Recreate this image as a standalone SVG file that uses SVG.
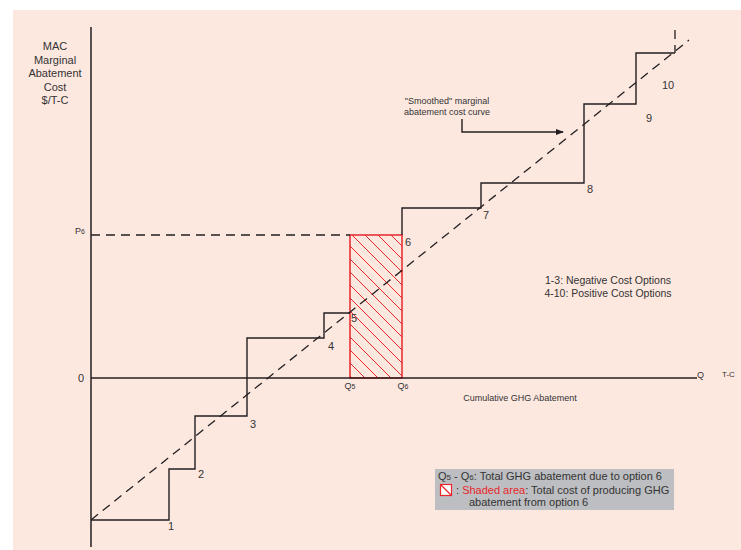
<svg xmlns="http://www.w3.org/2000/svg" width="741" height="550" viewBox="0 0 741 550">
<style>
text{font-family:"Liberation Sans",Arial,sans-serif;fill:#333}
.ax{stroke:#231f20;stroke-width:1.5;fill:none}
.st{stroke:#231f20;stroke-width:1.4;fill:none}
.ds{stroke:#231f20;stroke-width:1.3;fill:none;stroke-dasharray:9 6}
.n{font-size:11px}
.s{font-size:9px}
</style>
<defs>
<pattern id="hatch" patternUnits="userSpaceOnUse" width="13" height="13">
<path d="M-1,-1 L14,14 M-1,12 L1,14 M12,-1 L14,1" stroke="#e8262b" stroke-width="1"/>
</pattern>
<marker id="ah" markerWidth="8" markerHeight="6" refX="7" refY="3" orient="auto" markerUnits="userSpaceOnUse">
<path d="M0,0 L8,3 L0,6 Z" fill="#231f20"/>
</marker>
</defs>
<rect x="0" y="0" width="741" height="550" fill="#ffffff"/>
<rect x="13" y="10" width="728" height="540" fill="#fde8e0"/>

<g id="shaded-area">
<rect x="350" y="235" width="52" height="143" fill="url(#hatch)" stroke="#e8262b" stroke-width="1.5"/>
</g>

<g id="connectors">
<path class="ax" d="M91,27 V547"/>
<path class="ax" d="M91,378 H697"/>
<path class="ds" d="M91,235 H350"/>
<path class="st" d="M91,520 H169 V469 H195 V416 H247 V338 H324 V313 H350 M402,235 V208 H481 V183 H584 V104 H636 V53 H675"/>
<path class="ds" d="M675,30 V53"/>
<path class="ds" d="M91,520 L689,40"/>
<path class="st" d="M462,119 V132 H563" marker-end="url(#ah)"/>
</g>

<g id="y-label">
<text class="n" text-anchor="middle" x="55" y="50">MAC</text>
<text class="n" text-anchor="middle" x="55" y="64">Marginal</text>
<text class="n" text-anchor="middle" x="55" y="77">Abatement</text>
<text class="n" text-anchor="middle" x="55" y="91">Cost</text>
<text class="n" text-anchor="middle" x="55" y="104">$/T-C</text>
</g>

<g id="axis-labels">
<text class="s" x="75" y="234">P<tspan font-size="7">6</tspan></text>
<text class="n" x="78" y="382">0</text>
<text class="s" x="697" y="378">Q</text>
<text class="s" font-size="8" x="722" y="377" style="font-size:8px">T-C</text>
<text class="s" text-anchor="middle" x="350" y="389">Q<tspan font-size="7">5</tspan></text>
<text class="s" text-anchor="middle" x="403" y="389">Q<tspan font-size="7">6</tspan></text>
<text class="s" text-anchor="middle" x="520" y="401">Cumulative GHG Abatement</text>
</g>

<g id="step-numbers">
<text class="n" text-anchor="middle" x="171" y="530">1</text>
<text class="n" text-anchor="middle" x="201" y="478">2</text>
<text class="n" text-anchor="middle" x="253" y="428">3</text>
<text class="n" text-anchor="middle" x="331" y="350">4</text>
<text class="n" text-anchor="middle" x="354" y="322">5</text>
<text class="n" text-anchor="middle" x="408" y="246">6</text>
<text class="n" text-anchor="middle" x="486" y="219">7</text>
<text class="n" text-anchor="middle" x="590" y="193">8</text>
<text class="n" text-anchor="middle" x="649" y="122">9</text>
<text class="n" text-anchor="middle" x="668" y="89">10</text>
</g>

<g id="smoothed-label">
<text class="s" text-anchor="middle" x="447" y="104">"Smoothed" marginal</text>
<text class="s" text-anchor="middle" x="447" y="115">abatement cost curve</text>
</g>

<g id="options-note">
<text text-anchor="middle" x="608" y="284" style="font-size:10.5px">1-3: Negative Cost Options</text>
<text text-anchor="middle" x="608" y="297" style="font-size:10.5px">4-10: Positive Cost Options</text>
</g>

<g id="legend">
<rect x="435" y="469" width="239" height="41" fill="#bdbec1"/>
<text x="438" y="480" style="font-size:11px">Q<tspan font-size="8">5</tspan> - Q<tspan font-size="8">6</tspan>: Total GHG abatement due to option 6</text>
<rect x="440.5" y="484.5" width="11" height="11" fill="#ffffff" stroke="#e8262b" stroke-width="1.2"/>
<path d="M441,485 L451,495" stroke="#e8262b" stroke-width="1.2"/>
<text x="456" y="494" style="font-size:11px">: <tspan fill="#e8262b">Shaded area</tspan>: Total cost of producing GHG</text>
<text x="469" y="506" style="font-size:11px">abatement from option 6</text>
</g>
</svg>
